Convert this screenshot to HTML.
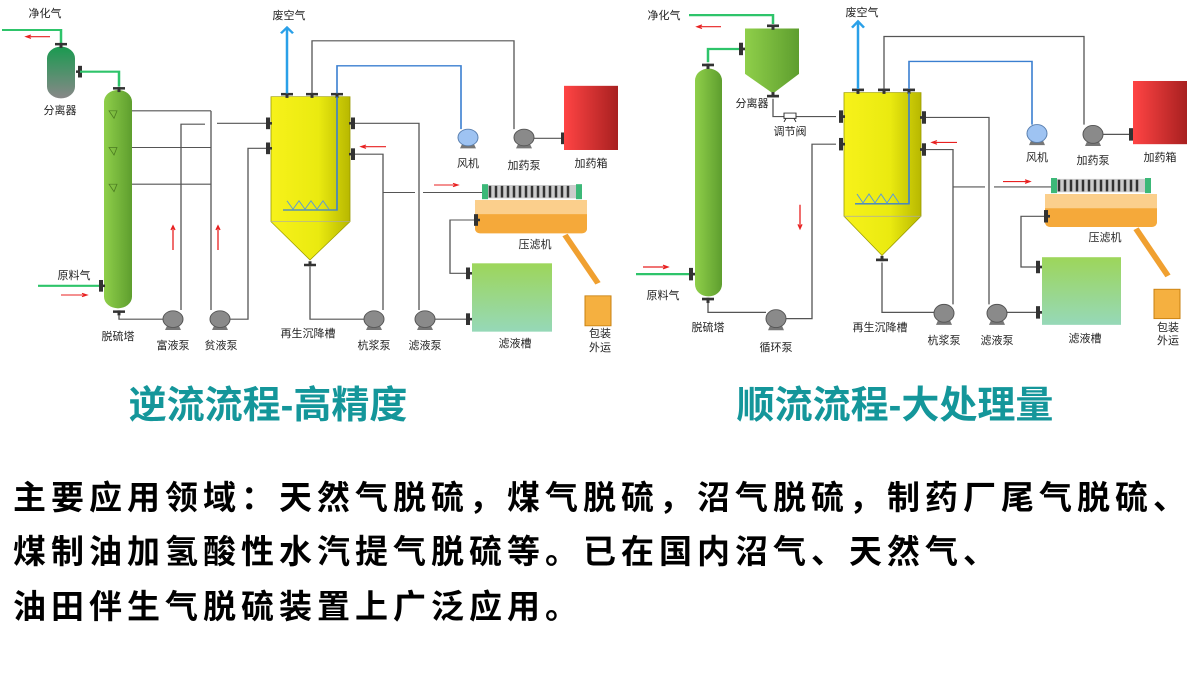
<!DOCTYPE html>
<html><head><meta charset="utf-8"><style>
html,body{margin:0;padding:0;background:#fff;width:1200px;height:676px;overflow:hidden}
svg{display:block}
.l{font-family:"Liberation Sans","Noto Sans CJK SC",sans-serif;font-size:11px;fill:#222;text-anchor:middle}
.t{font-family:"Liberation Sans","Noto Sans CJK SC",sans-serif;font-size:38px;font-weight:bold;fill:#14969a;text-anchor:middle}
.b{font-family:"Liberation Sans","Noto Sans CJK SC",sans-serif;font-size:33px;font-weight:bold;fill:#000;letter-spacing:5px}
.g{stroke:#555;stroke-width:1.3;fill:none}
.bl{stroke:#3a7fd0;stroke-width:1.6;fill:none}
.gr{stroke:#2ec46a;stroke-width:2.5;fill:none}
.r{stroke:#e82020;stroke-width:1.3;fill:none}
</style></head><body>
<svg width="1200" height="676" viewBox="0 0 1200 676" xmlns="http://www.w3.org/2000/svg">
<defs>
<linearGradient id="tg" x1="0" x2="1"><stop offset="0" stop-color="#8fcf4a"/><stop offset="1" stop-color="#5e9e2e"/></linearGradient>
<linearGradient id="yg" x1="0" x2="1"><stop offset="0" stop-color="#f7f21a"/><stop offset="0.6" stop-color="#eaea10"/><stop offset="1" stop-color="#b8b800"/></linearGradient>
<linearGradient id="sg" x1="0" y1="0" x2="0" y2="1"><stop offset="0" stop-color="#1a9a50"/><stop offset="1" stop-color="#888"/></linearGradient>
<linearGradient id="rg" x1="0" x2="1"><stop offset="0" stop-color="#f44"/><stop offset="1" stop-color="#a82020"/></linearGradient>
<linearGradient id="fg" x1="0" y1="0" x2="0" y2="1"><stop offset="0" stop-color="#9dd65a"/><stop offset="1" stop-color="#96d8b8"/></linearGradient>
<g id="pump"><path d="M-6 8 L-8 13 L8 13 L6 8Z" fill="#777"/><circle r="10" fill="#8a8a8a" stroke="#555" stroke-width="1"/></g>
<g id="fan"><path d="M-6 8 L-8 13 L8 13 L6 8Z" fill="#777"/><circle r="10" fill="#9ec3f2" stroke="#5a80b0" stroke-width="1"/></g>
<g id="fl"><rect x="-6" y="-1.5" width="12" height="3" fill="#333"/><rect x="-1.5" y="-1.5" width="3" height="6" fill="#333"/></g>
<g id="nl"><rect x="-2" y="-7" width="4" height="14" fill="#333"/><rect x="-2" y="-1.5" width="6" height="3" fill="#333"/></g>
<g id="nr"><rect x="-2" y="-7" width="4" height="14" fill="#333"/><rect x="-4" y="-1.5" width="6" height="3" fill="#333"/></g>
</defs>

<!-- ===== LEFT DIAGRAM ===== -->
<g transform="scale(1,0.8333)">
<path class="gr" d="M2 36 H61 V52"/>
<path class="r" d="M50 44 H27 M31 42 L26 44 L31 46"/>
<rect x="47" y="56" width="28" height="62" rx="14" fill="url(#sg)"/>
<use href="#fl" x="61" y="53"/>
<use href="#nr" x="80" y="86"/>
<path class="gr" d="M80 86 H119 V104"/>
<rect x="104" y="108" width="28" height="262" rx="14" fill="url(#tg)"/>
<use href="#fl" x="119" y="106"/>
<use href="#fl" x="119" y="374"/>
<path d="M109 133 h8 l-3 9z M109 177 h8 l-3 9z M109 221 h8 l-3 9z" fill="none" stroke="#4a7a20" stroke-width="0.8"/>
<path class="g" d="M132 133 H211 M132 177 H211 M132 221 H211 M211 133 V372"/>
<path class="g" d="M205 149 H181 V372"/>
<path class="g" d="M217 148 H266"/>
<path class="g" d="M266 178 H248 V383 H230"/>
<path class="g" d="M119 378 V383 H163"/>
<path class="r" d="M173 300 V272 M171 276 L173 271 L175 276"/>
<path class="r" d="M218 300 V272 M216 276 L218 271 L220 276"/>
<path class="gr" d="M38 343 H100"/>
<use href="#nl" x="101" y="343"/>
<path class="r" d="M61 354 H86 M82 352 L87 354 L82 356"/>
<path d="M271 116 H350 V266 L310 312 L271 266Z" fill="url(#yg)" stroke="#9a9a00" stroke-width="0.8"/>
<path d="M271 266 H350" stroke="#aaa" stroke-width="0.8"/>
<use href="#fl" x="287" y="113"/><use href="#fl" x="312" y="113"/><use href="#fl" x="337" y="113"/>
<use href="#fl" x="310" y="318" transform="rotate(180 310 318)"/>
<use href="#nl" x="268" y="148"/><use href="#nl" x="268" y="178"/>
<use href="#nr" x="353" y="148"/><use href="#nr" x="353" y="185"/>
<path d="M287 112 V34" stroke="#2aa0e8" stroke-width="2.5"/>
<path d="M281 40 L287 33 L293 40" stroke="#2aa0e8" stroke-width="2.5" fill="none"/>
<path class="g" d="M312 112 V49 H514 V155"/>
<path class="bl" d="M337 112 V79 H461 V155"/>
<path class="bl" d="M337 116 V252 H283"/>
<path d="M287 241 l6 10 l6 -10 l6 10 l6 -10 l6 10 l6 -10 l6 10" stroke="#5a9ad8" stroke-width="1" fill="none"/>
<path class="g" d="M355 148 H419 V372"/>
<path class="g" d="M355 185 H383 V372"/>
<path class="g" d="M383 231 H415 M423 231 H483"/>
<path class="g" d="M310 320 V383 H364"/>
<path class="r" d="M386 176 H362 M366 174 L361 176 L366 178"/>
<path class="r" d="M434 222 H457 M453 220 L458 222 L453 224"/>
<use href="#fan" x="468" y="165"/>
<use href="#pump" x="524" y="165"/>
<path class="g" d="M534 166 H562"/>
<use href="#nl" x="563" y="166"/>
<rect x="564" y="103" width="54" height="77" fill="url(#rg)"/>
<rect x="475" y="240" width="112" height="40" rx="5" fill="#f5a93a"/>
<rect x="475" y="240" width="112" height="17" fill="#fbcf8c"/>
<rect x="483" y="222" width="97" height="16" fill="#ccc"/>
<path d="M490 223 V237 M496 223 V237 M502 223 V237 M508 223 V237 M514 223 V237 M520 223 V237 M526 223 V237 M532 223 V237 M538 223 V237 M544 223 V237 M550 223 V237 M556 223 V237 M562 223 V237 M568 223 V237" stroke="#333" stroke-width="2.5"/>
<rect x="482" y="221" width="6" height="18" fill="#3cb878"/><rect x="576" y="221" width="6" height="18" fill="#3cb878"/>
<path d="M565 282 L598 340" stroke="#f0a030" stroke-width="6"/>
<rect x="585" y="355" width="26" height="36" fill="#f5b040" stroke="#c88010"/>
<use href="#nl" x="476" y="264"/>
<path class="g" d="M474 264 H450 V328 H466"/>
<use href="#nl" x="468" y="328"/>
<rect x="472" y="316" width="80" height="82" fill="url(#fg)"/>
<use href="#pump" x="173" y="383"/><use href="#pump" x="220" y="383"/>
<use href="#pump" x="374" y="383"/><use href="#pump" x="425" y="383"/>
<path class="g" d="M435 383 H466"/><use href="#nl" x="468" y="383"/>
</g>
<text class="l" x="45" y="17">净化气</text>
<text class="l" x="60" y="114">分离器</text>
<text class="l" x="74" y="279">原料气</text>
<text class="l" x="289" y="19">废空气</text>
<text class="l" x="468" y="167">风机</text>
<text class="l" x="524" y="169">加药泵</text>
<text class="l" x="591" y="167">加药箱</text>
<text class="l" x="535" y="248">压滤机</text>
<text class="l" x="118" y="340">脱硫塔</text>
<text class="l" x="173" y="349">富液泵</text>
<text class="l" x="221" y="349">贫液泵</text>
<text class="l" x="308" y="337">再生沉降槽</text>
<text class="l" x="374" y="349">杭浆泵</text>
<text class="l" x="425" y="349">滤液泵</text>
<text class="l" x="515" y="347">滤液槽</text>
<text class="l" x="600" y="337">包装</text>
<text class="l" x="600" y="351">外运</text>

<!-- ===== RIGHT DIAGRAM ===== -->
<g transform="scale(1,0.89)">
<path class="gr" d="M689 17 H773 V27"/>
<path class="r" d="M721 30 H698 M702 28 L697 30 L702 32"/>
<path d="M745 32 H799 V83 L773 105 L745 83Z" fill="url(#tg)"/>
<use href="#fl" x="773" y="29"/>
<use href="#fl" x="773" y="108" transform="rotate(180 773 108)"/>
<use href="#nl" x="741" y="55"/>
<path class="gr" d="M739 55 H708 V70"/>
<rect x="695" y="77" width="27" height="256" rx="13.5" fill="url(#tg)"/>
<use href="#fl" x="708" y="73"/>
<use href="#fl" x="708" y="336"/>
<path class="g" d="M708 340 V351 H766"/>
<path class="g" d="M786 358 H812 V162 H836"/>
<path class="g" d="M773 111 V131 H836"/>
<path d="M784 127 h12 v6 h-12z" fill="#fff" stroke="#333"/><path d="M786 133 l-2 4 M794 133 l2 4" stroke="#333"/>
<path class="r" d="M800 230 V256 M798 252 L800 257 L802 252"/>
<path class="gr" d="M636 308 H690"/>
<use href="#nl" x="691" y="308"/>
<path class="r" d="M643 300 H667 M663 298 L668 300 L663 302"/>
<path d="M844 104 H921 V243 L882 287 L844 243Z" fill="url(#yg)" stroke="#9a9a00" stroke-width="0.8"/>
<path d="M844 243 H921" stroke="#aaa" stroke-width="0.8"/>
<use href="#fl" x="858" y="101"/><use href="#fl" x="884" y="101"/><use href="#fl" x="909" y="101"/>
<use href="#fl" x="882" y="292" transform="rotate(180 882 292)"/>
<use href="#nl" x="841" y="131"/><use href="#nl" x="841" y="162"/>
<use href="#nr" x="924" y="132"/><use href="#nr" x="924" y="168"/>
<path d="M858 100 V25" stroke="#2aa0e8" stroke-width="2.5"/>
<path d="M852 31 L858 24 L864 31" stroke="#2aa0e8" stroke-width="2.5" fill="none"/>
<path class="g" d="M884 100 V41 H1084 V140"/>
<path class="bl" d="M909 100 V69 H1032 V140"/>
<path class="bl" d="M909 104 V229 H855"/>
<path d="M857 218 l6 10 l6 -10 l6 10 l6 -10 l6 10 l6 -10 l6 10" stroke="#5a9ad8" stroke-width="1" fill="none"/>
<path class="g" d="M926 132 H989 V342"/>
<path class="g" d="M926 168 H953 V342"/>
<path class="g" d="M953 210 H985 M994 210 H1052"/>
<path class="g" d="M882 295 V351 H934"/>
<path class="r" d="M957 160 H933 M937 158 L932 160 L937 162"/>
<path class="r" d="M1003 204 H1029 M1025 202 L1030 204 L1025 206"/>
<use href="#fan" x="1037" y="150"/>
<use href="#pump" x="1093" y="151"/>
<path class="g" d="M1103 151 H1130"/><use href="#nl" x="1131" y="151"/>
<rect x="1133" y="91" width="54" height="71" fill="url(#rg)"/>
<rect x="1045" y="218" width="112" height="37" rx="5" fill="#f5a93a"/>
<rect x="1045" y="218" width="112" height="16" fill="#fbcf8c"/>
<rect x="1052" y="201" width="98" height="15" fill="#ccc"/>
<path d="M1059 202 V215 M1065 202 V215 M1071 202 V215 M1077 202 V215 M1083 202 V215 M1089 202 V215 M1095 202 V215 M1101 202 V215 M1107 202 V215 M1113 202 V215 M1119 202 V215 M1125 202 V215 M1131 202 V215 M1137 202 V215" stroke="#333" stroke-width="2.5"/>
<rect x="1051" y="200" width="6" height="17" fill="#3cb878"/><rect x="1145" y="200" width="6" height="17" fill="#3cb878"/>
<path d="M1136 257 L1168 310" stroke="#f0a030" stroke-width="6"/>
<rect x="1154" y="325" width="26" height="33" fill="#f5b040" stroke="#c88010"/>
<use href="#nl" x="1046" y="243"/>
<path class="g" d="M1044 243 H1021 V300 H1036"/>
<use href="#nl" x="1038" y="300"/>
<rect x="1042" y="289" width="79" height="76" fill="url(#fg)"/>
<use href="#pump" x="776" y="358"/>
<use href="#pump" x="944" y="352"/><use href="#pump" x="997" y="352"/>
<path class="g" d="M1007 351 H1036"/><use href="#nl" x="1038" y="351"/>
</g>
<text class="l" x="664" y="19">净化气</text>
<text class="l" x="752" y="107">分离器</text>
<text class="l" x="790" y="135">调节阀</text>
<text class="l" x="663" y="299">原料气</text>
<text class="l" x="862" y="16">废空气</text>
<text class="l" x="1037" y="161">风机</text>
<text class="l" x="1093" y="164">加药泵</text>
<text class="l" x="1160" y="161">加药箱</text>
<text class="l" x="1105" y="241">压滤机</text>
<text class="l" x="708" y="331">脱硫塔</text>
<text class="l" x="776" y="351">循环泵</text>
<text class="l" x="880" y="331">再生沉降槽</text>
<text class="l" x="944" y="344">杭浆泵</text>
<text class="l" x="997" y="344">滤液泵</text>
<text class="l" x="1085" y="342">滤液槽</text>
<text class="l" x="1168" y="331">包装</text>
<text class="l" x="1168" y="344">外运</text>

<!-- titles -->
<text class="t" x="268" y="418">逆流流程-高精度</text>
<text class="t" x="895" y="418">顺流流程-大处理量</text>
<!-- body -->
<text class="b" x="13" y="509">主要应用领域：天然气脱硫，煤气脱硫，沼气脱硫，制药厂尾气脱硫、</text>
<text class="b" x="13" y="563">煤制油加氢酸性水汽提气脱硫等。已在国内沼气、天然气、</text>
<text class="b" x="13" y="618">油田伴生气脱硫装置上广泛应用。</text>
</svg>
</body></html>
